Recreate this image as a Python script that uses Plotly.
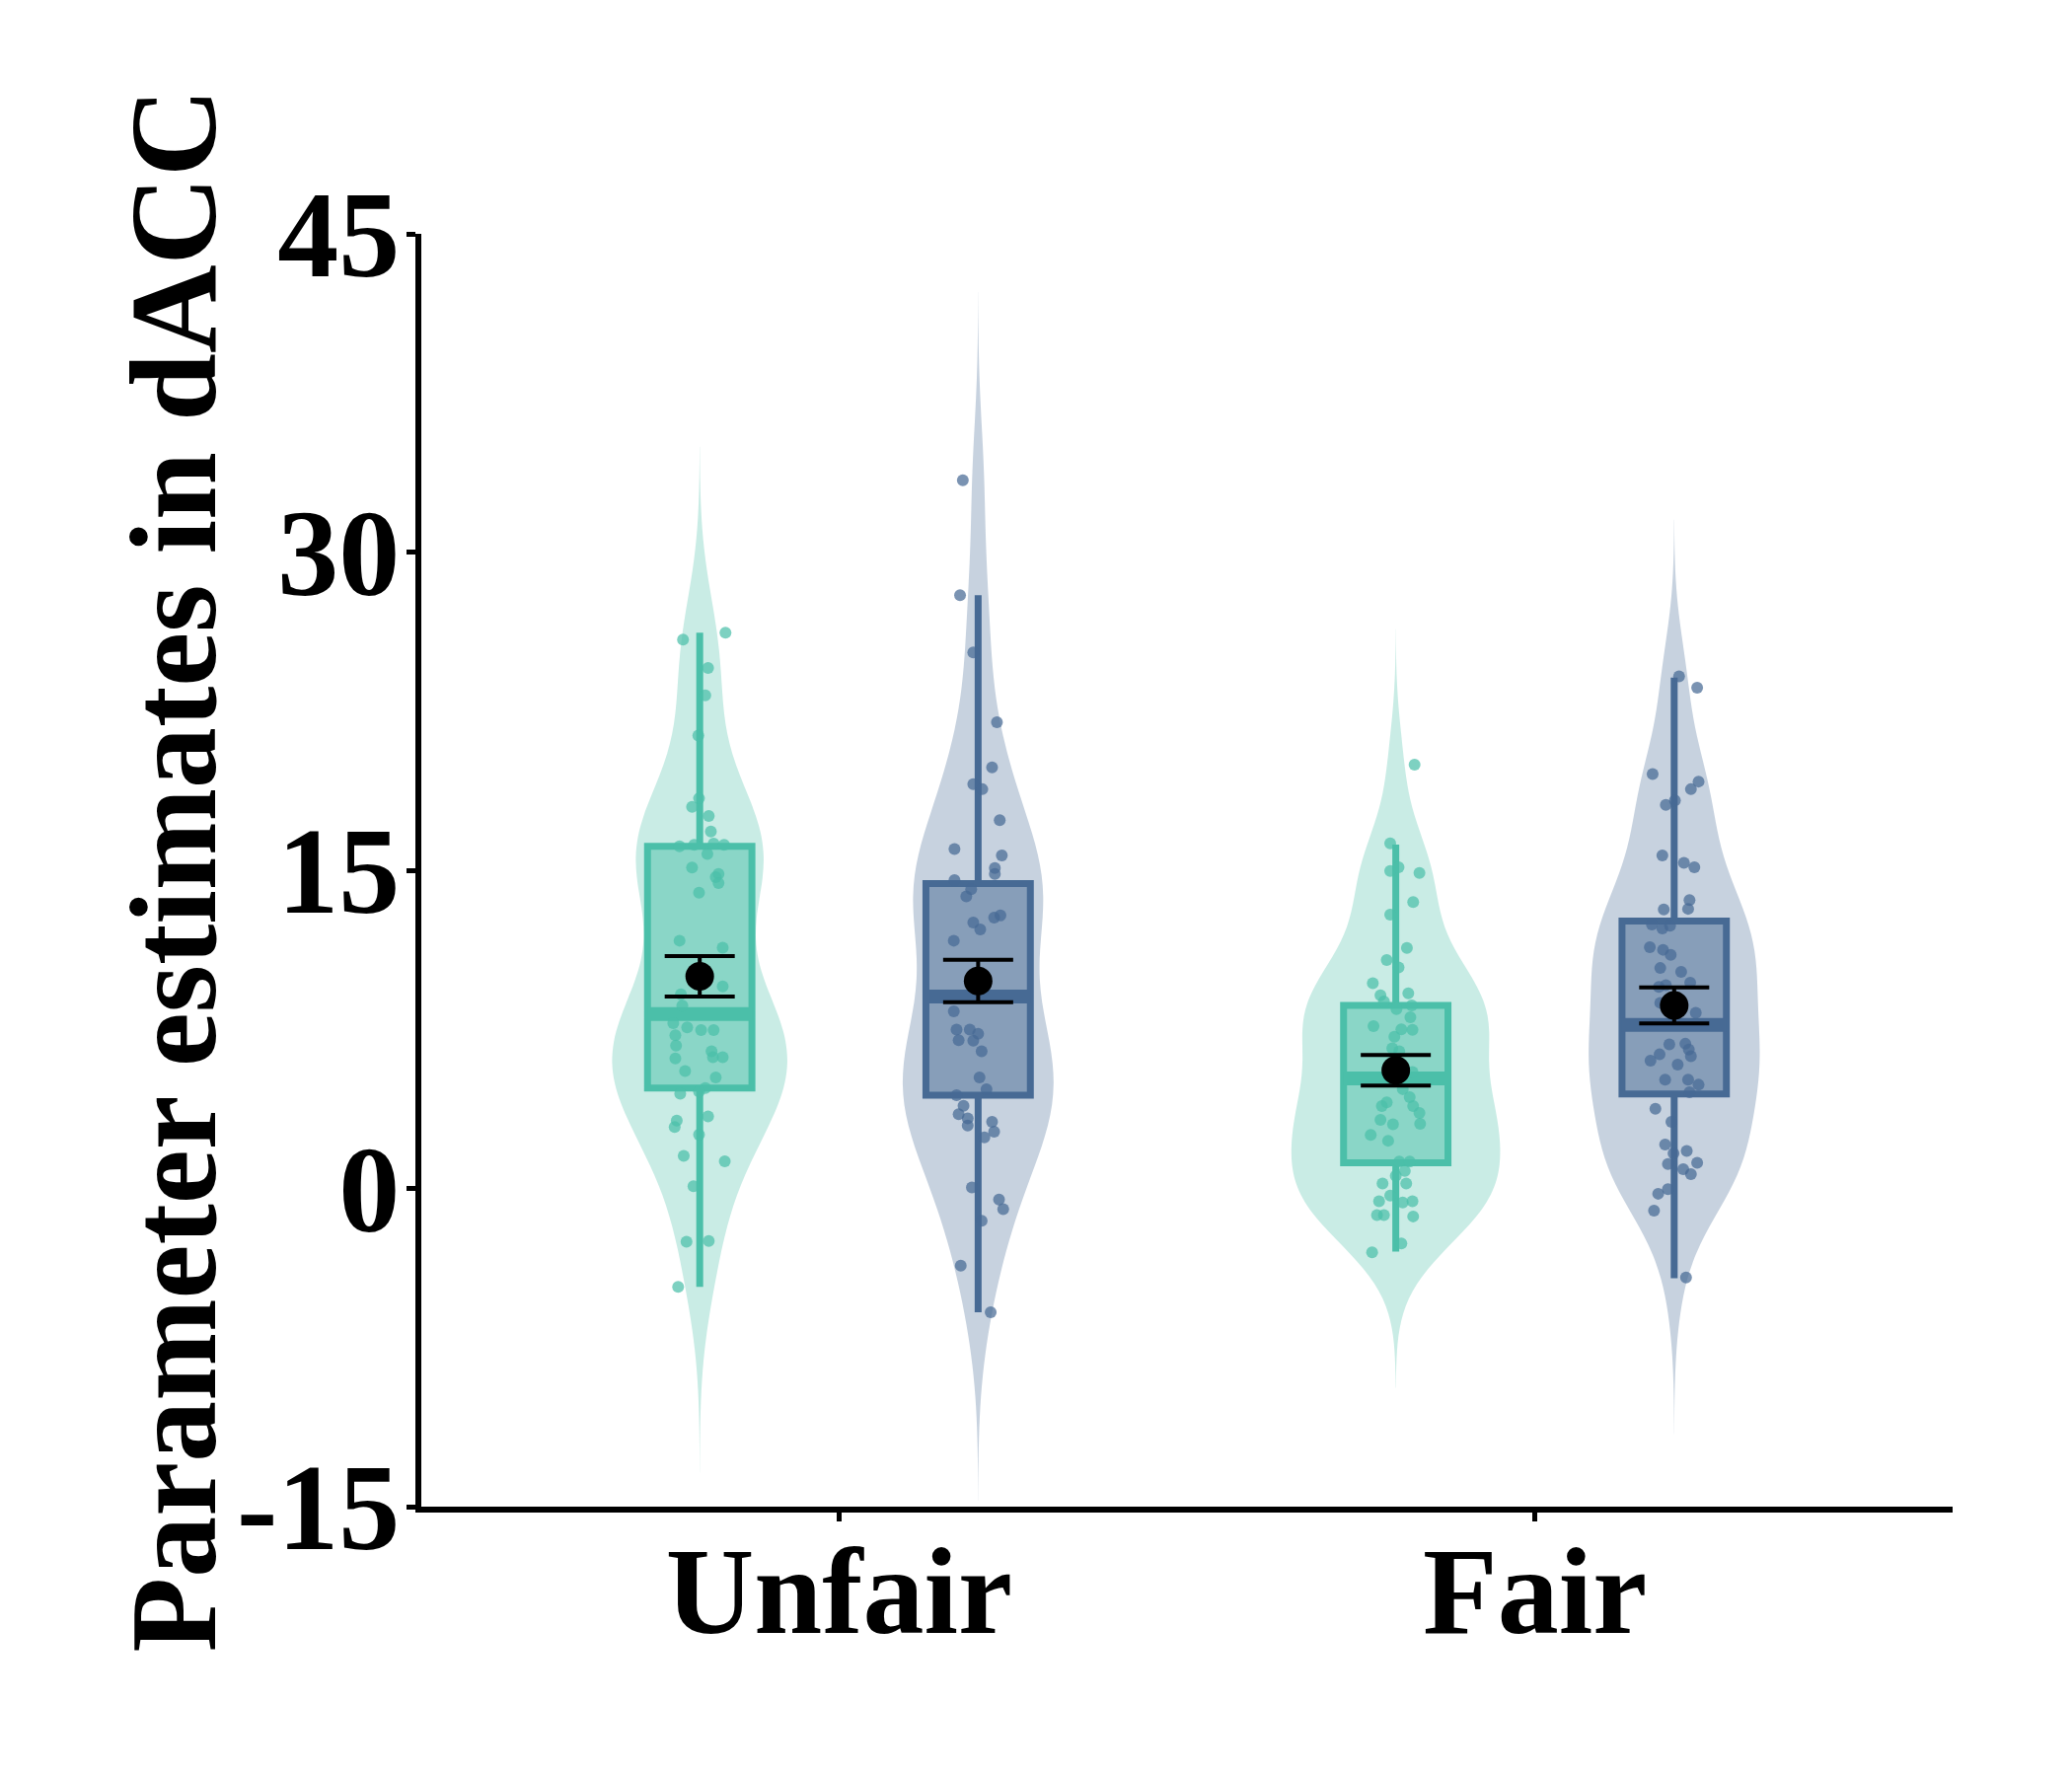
import numpy as np
import plotly.graph_objects as go

# ---------------- data ----------------
categories = ["Unfair", "Fair"]
cat_pos = [1, 2]
group_offset = [-0.2, 0.2]          # green (left) / blue (right) dodge
group_colors = [(75, 191, 169), (71, 106, 148)]

# individual points (values) and horizontal jitter (data units)
unfair_green = [25.87, 26.2, 24.54, 23.24, 21.35, 18.39, 17.99, 17.56, 16.83, 16.13,
                16.2, 16.26, 16.2, 15.77, 15.13, 14.83, 14.67, 14.4, 13.94, 11.68,
                11.35, 9.52, 9.15, 8.62, 7.79, 7.59, 7.46, 7.46, 7.22, 6.73,
                6.46, 6.13, 6.19, 6.19, 5.53, 5.23, 4.73, 4.57, 4.47, 3.4,
                3.2, 2.9, 2.54, 1.54, 1.28, 0.11, -2.51, -2.48, -4.64]
unfair_green_jit = [-0.024, 0.037, 0.012, 0.008, -0.002, -0.001, -0.011, 0.013, 0.016, -0.029,
                    -0.008, 0.020, 0.035, 0.011, -0.011, 0.027, 0.023, 0.027, -0.001, -0.029,
                    0.033, 0.033, -0.027, -0.025, -0.038, -0.018, 0.002, 0.020, -0.035, -0.034,
                    0.017, -0.035, 0.019, 0.033, -0.021, 0.023, 0.008, -0.001, -0.028, 0.012,
                    -0.033, -0.036, -0.001, -0.023, 0.036, -0.009, -0.019, 0.013, -0.031]

unfair_blue = [33.38, 27.96, 25.27, 21.98, 19.85, 19.06, 18.82, 17.36, 16.0, 15.7,
               15.1, 14.83, 14.54, 14.1, 13.77, 12.87, 12.77, 12.54, 12.21, 11.68,
               9.55, 8.35, 7.49, 7.49, 6.99, 7.29, 6.96, 6.46, 5.23, 4.67,
               4.4, 3.9, 3.5, 3.3, 2.97, 3.14, 2.67, 2.41, 0.05, -0.52,
               -0.98, -1.52, -3.64, -5.84]
unfair_blue_jit = [-0.022, -0.026, -0.007, 0.027, 0.020, -0.007, 0.006, 0.031, -0.034, 0.034,
                   0.024, 0.024, -0.034, -0.010, -0.017, 0.032, 0.023, -0.007, 0.003, -0.035,
                   0.010, -0.035, -0.031, -0.012, -0.028, 0.000, -0.007, 0.005, 0.002, 0.012,
                   -0.031, -0.021, -0.028, -0.015, -0.015, 0.020, 0.023, 0.009, -0.009, 0.030,
                   0.036, 0.005, -0.025, 0.018]

fair_green = [19.98, 16.27, 14.96, 15.14, 14.87, 13.5, 12.91, 11.34, 10.77, 10.42,
              9.67, 9.11, 9.2, 8.81, 8.63, 8.45, 8.07, 7.65, 7.48, 7.5,
              7.15, 6.61, 6.47, 5.49, 4.68, 4.3, 4.06, 3.88, 3.88, 3.56,
              3.23, 3.02, 3.05, 2.52, 2.25, 1.27, 1.27, 0.82, 0.59, 0.23,
              0.23, -0.34, -0.6, -0.66, -0.6, -1.26, -1.26, -1.32, -2.59, -3.01]
fair_green_jit = [0.027, -0.008, -0.008, 0.004, 0.034, 0.025, -0.008, 0.016, -0.013, 0.004,
                  -0.033, -0.022, 0.018, -0.017, 0.023, 0.001, 0.021, -0.032, 0.024, 0.008,
                  -0.002, -0.005, 0.005, 0.024, 0.010, 0.020, -0.013, -0.020, 0.025, 0.034,
                  -0.022, -0.004, 0.035, -0.036, -0.011, 0.005, 0.020, 0.013, 0.000, -0.019,
                  0.015, -0.008, -0.024, 0.010, 0.024, -0.027, -0.017, 0.025, 0.008, -0.034]

fair_blue = [24.14, 23.6, 19.53, 19.18, 18.82, 18.08, 18.29, 15.7, 15.35, 15.14,
             13.59, 13.18, 13.15, 12.44, 12.26, 12.38, 11.37, 11.25, 11.01, 10.39,
             10.21, 9.7, 9.5, 9.58, 8.75, 8.28, 6.79, 6.82, 6.55, 6.32,
             6.23, 6.02, 5.84, 5.13, 5.13, 4.89, 4.53, 3.76, 3.14, 2.07,
             1.65, 1.77, 1.21, 1.15, 0.91, 0.67, -0.04, -0.25, -1.05, -4.2]
fair_blue_jit = [0.007, 0.033, -0.031, 0.035, 0.024, -0.012, 0.001, -0.017, 0.014, 0.029,
                 0.022, 0.020, -0.015, -0.032, -0.017, -0.006, -0.035, -0.016, -0.005, -0.020,
                 0.010, 0.023, -0.022, -0.012, -0.020, 0.031, -0.007, 0.016, 0.021, -0.021,
                 0.024, -0.034, 0.005, -0.013, 0.020, 0.035, 0.022, -0.027, -0.004, -0.013,
                 -0.001, 0.018, 0.033, -0.009, 0.013, 0.024, -0.009, -0.023, -0.029, 0.017]

# order of the four groups: Unfair-green, Unfair-blue, Fair-green, Fair-blue
violin_bw = [2.92, 2.96, 2.13, 2.46]     # kernel bandwidths

box_q1 = [4.73, 4.40, 1.21, 4.45]
box_median = [8.22, 9.05, 5.19, 7.71]
box_q3 = [16.13, 14.37, 8.63, 12.61]
box_lower = [-4.64, -5.84, -2.98, -4.23]
box_upper = [26.2, 27.96, 16.21, 24.08]

group_mean = [10.0, 9.78, 5.57, 8.63]
group_se = [0.95, 1.0, 0.72, 0.85]

y_ticks = [-15, 0, 15, 30, 45]
y_title = "Parameter estimates in dACC"

# ---------------- figure ----------------
groups = [
    (unfair_green, unfair_green_jit, 0, 0),
    (unfair_blue, unfair_blue_jit, 0, 1),
    (fair_green, fair_green_jit, 1, 0),
    (fair_blue, fair_blue_jit, 1, 1),
]


def rgba(c, a):
    return "rgba(%d,%d,%d,%s)" % (c[0], c[1], c[2], a)


def kde_peak(v, bw):
    v = np.asarray(v, float)
    grid = np.linspace(v.min() - 3 * bw, v.max() + 3 * bw, 1024)
    d = np.exp(-0.5 * ((grid[:, None] - v[None, :]) / bw) ** 2).sum(1) / (len(v) * bw * np.sqrt(2 * np.pi))
    return d.max()


peaks = [kde_peak(g[0], b) for g, b in zip(groups, violin_bw)]
max_violin_width = 0.30
box_width = 0.15

fig = go.Figure()

# violins (area-scaled like ggplot: width proportional to peak density)
for (vals, jit, ci, gi), bw, pk in zip(groups, violin_bw, peaks):
    pos = cat_pos[ci] + group_offset[gi]
    col = group_colors[gi]
    fig.add_trace(go.Violin(
        x=[pos] * len(vals), y=vals,
        bandwidth=bw, spanmode="manual",
        span=[min(vals) - 3 * bw, max(vals) + 3 * bw],
        width=max_violin_width * pk / max(peaks),
        fillcolor=rgba(col, 0.3), line=dict(width=0, color="rgba(0,0,0,0)"),
        points=False, side="both", hoverinfo="skip", showlegend=False,
    ))

# boxes
for k, (vals, jit, ci, gi) in enumerate(groups):
    pos = cat_pos[ci] + group_offset[gi]
    col = group_colors[gi]
    fig.add_trace(go.Box(
        x=[pos], q1=[box_q1[k]], median=[box_median[k]], q3=[box_q3[k]],
        lowerfence=[box_lower[k]], upperfence=[box_upper[k]],
        width=box_width, whiskerwidth=0, boxpoints=False,
        fillcolor=rgba(col, 0.5), line=dict(color=rgba(col, 1), width=7),
        showlegend=False, hoverinfo="skip",
    ))
    # thicker median line (ggplot fatten = 2)
    fig.add_trace(go.Scatter(
        x=[pos - box_width / 2, pos + box_width / 2], y=[box_median[k]] * 2,
        mode="lines", line=dict(color=rgba(col, 1), width=14),
        showlegend=False, hoverinfo="skip",
    ))

# jittered points
for vals, jit, ci, gi in groups:
    pos = cat_pos[ci] + group_offset[gi]
    col = group_colors[gi]
    fig.add_trace(go.Scatter(
        x=[pos + j for j in jit], y=vals, mode="markers",
        marker=dict(size=12, color=rgba(col, 0.72), line=dict(width=0)),
        showlegend=False, hoverinfo="skip",
    ))

# mean +/- SE
mean_x = [cat_pos[ci] + group_offset[gi] for _, _, ci, gi in groups]
fig.add_trace(go.Scatter(
    x=mean_x, y=group_mean, mode="markers",
    marker=dict(size=29, color="black"),
    error_y=dict(type="data", array=group_se, color="black", thickness=4, width=35.5),
    showlegend=False, hoverinfo="skip",
))

font_family = "Liberation Serif"
big_font = dict(family=font_family, size=124, color="black", weight="bold")
fig.update_layout(
    width=2100, height=1800,
    margin=dict(l=427, r=121, t=237, b=273),
    paper_bgcolor="white", plot_bgcolor="white",
    violinmode="overlay", boxmode="overlay",
    showlegend=False,
    font=dict(family=font_family, color="black"),
    annotations=[dict(
        text=y_title, textangle=-90, font=big_font,
        xref="paper", yref="paper", x=-0.162, y=0.5,
        xanchor="center", yanchor="middle", showarrow=False,
    )],
)
fig.update_xaxes(
    range=[0.4, 2.6], tickmode="array", tickvals=cat_pos, ticktext=categories,
    showline=True, linecolor="black", linewidth=6,
    ticks="outside", ticklen=9, tickwidth=5, tickcolor="black",
    showgrid=False, zeroline=False, ticklabelstandoff=-36,
    tickfont=big_font,
)
fig.update_yaxes(
    range=[-15, 45], tickmode="array", tickvals=y_ticks,
    ticktext=[str(t) for t in y_ticks],
    showline=True, linecolor="black", linewidth=6,
    ticks="outside", ticklen=9, tickwidth=5, tickcolor="black",
    showgrid=False, zeroline=False, ticklabelstandoff=-18,
    tickfont=big_font,
)

fig.write_html("out.html")
